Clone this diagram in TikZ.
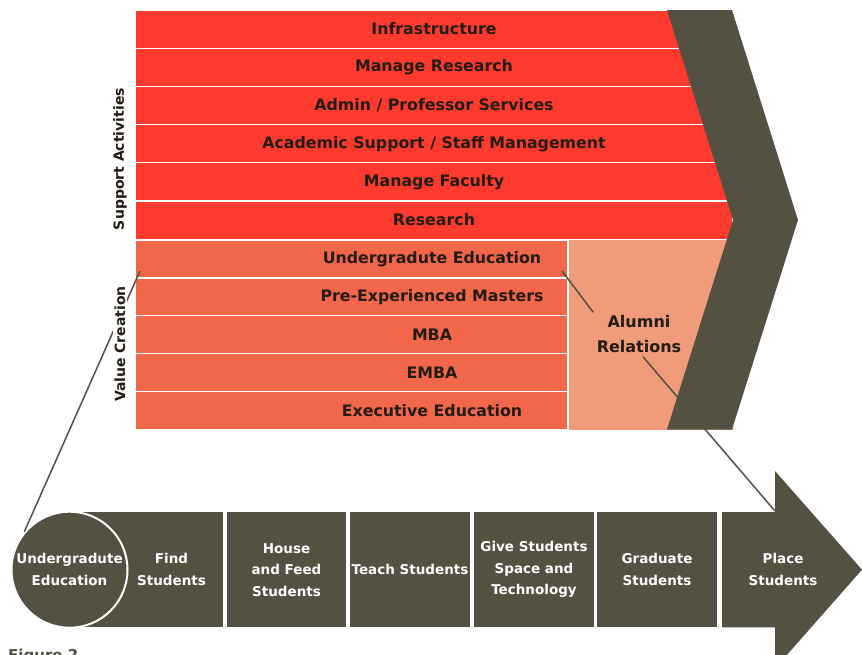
\documentclass[tikz,border=0pt]{standalone}
\usepackage{fontspec}
\setmainfont{DejaVu Sans}
\definecolor{supred}{RGB}{253,58,45}
\definecolor{valorange}{RGB}{242,102,74}
\definecolor{alumlight}{RGB}{240,155,121}
\definecolor{darkolive}{RGB}{84,80,66}
\definecolor{ink}{RGB}{36,28,18}

\begin{document}
\begin{tikzpicture}[x=1pt,y=-1pt,
	suprow/.style={fill=supred,draw=white,line width=1.2pt,minimum width=598pt,minimum height=38.2pt,inner sep=0pt,text=ink,font=\bfseries\fontsize{15.8}{19}\selectfont},
	valrow/.style={fill=valorange,draw=white,line width=1.2pt,minimum width=433pt,minimum height=37.9pt,inner sep=0pt},
	valtext/.style={text=ink,font=\bfseries\fontsize{15.8}{19}\selectfont},
	sidelabel/.style={rotate=90,text=ink,font=\bfseries\fontsize{14}{17}\selectfont},
	stagebox/.style={fill=darkolive,minimum height=115.5pt,inner sep=0pt,align=center,text=white,font=\bfseries\fontsize{13.5}{21.5}\selectfont},
	link/.style={draw=darkolive,line width=1.5pt}
]
	\useasboundingbox (0,0) rectangle (862,654);

	% support activities
	\fill[alumlight] (568,239.8) rectangle (733,429.5);
	\node[suprow] (infra) at (434,29.1) {Infrastructure};
	\node[suprow] (mresearch) at (434,67.3) {Manage Research};
	\node[suprow] (admin) at (434,105.5) {Admin / Professor Services};
	\node[suprow] (academic) at (434,143.7) {Academic Support / Staff Management};
	\node[suprow] (mfaculty) at (434,181.9) {Manage Faculty};
	\node[suprow] (research) at (434,220.1) {Research};

	% value creation
	\node[valrow] (ugrow) at (351.5,259) {};
	\node[valrow] (pemrow) at (351.5,296.9) {};
	\node[valrow] (mbarow) at (351.5,334.8) {};
	\node[valrow] (embarow) at (351.5,372.7) {};
	\node[valrow] (exedrow) at (351.5,410.6) {};
	\node[valtext] (ugtext) at (432,259) {Undergradute Education};
	\node[valtext] (pemtext) at (432,296.9) {Pre-Experienced Masters};
	\node[valtext] (mbatext) at (432,334.8) {MBA};
	\node[valtext] (embatext) at (432,372.7) {EMBA};
	\node[valtext] (exedtext) at (432,410.6) {Executive Education};

	\node[valtext,align=center,font=\bfseries\fontsize{16}{25}\selectfont] (alumni) at (639,334.5) {Alumni\\Relations};

	% value chain
	\fill[darkolive] (69,512) rectangle (172,627.45);
	\node[stagebox,minimum width=103pt] (find) at (171.5,569.7) {Find\\Students};
	\node[stagebox,minimum width=119pt] (house) at (286.5,569.7) {House\\and Feed\\Students};
	\node[stagebox,minimum width=120pt] (teach) at (410,569.7) {Teach Students};
	\node[stagebox,minimum width=120pt] (give) at (534,569.7) {Give Students\\Space and\\Technology};
	\node[stagebox,minimum width=120pt] (grad) at (657,569.7) {Graduate\\Students};
	\fill[darkolive] (722,512) -- (775,512) -- (775,471) -- (862,569.7) -- (775,668.4) -- (775,627.4) -- (722,627.4) -- cycle;
	\node[stagebox,fill=none] (place) at (783,569.7) {Place\\Students};
	\node[stagebox,circle,draw=white,line width=2pt,minimum size=116pt,minimum height=0pt] (ug) at (69.5,569.7) {Undergradute\\Education};

	% connectors
	\coordinate (vcstart) at (140,271);
	\coordinate (alstart) at (562,271);
	\coordinate (headbase) at (775,511);
	\node[sidelabel] (support) at (120,159) {Support Activities};
	\draw[link] (vcstart) -- (ug.140);
	\node[sidelabel,fill=white,inner sep=2pt] (valuecr) at (120,344) {Value Creation};
	\draw[link] (alstart) -- (alumni.north west);
	\draw[link] (alumni.-80) -- (headbase);

	% chevron
	\fill[darkolive] (667,10) -- (732,10) -- (798,220) -- (732,429.5) -- (667,429.5) -- (733,220) -- cycle;

	\node[anchor=north west,inner sep=0pt,text=darkolive,font=\bfseries\fontsize{15}{18}\selectfont] (figlabel) at (8,649) {Figure 2};
\end{tikzpicture}
\end{document}
